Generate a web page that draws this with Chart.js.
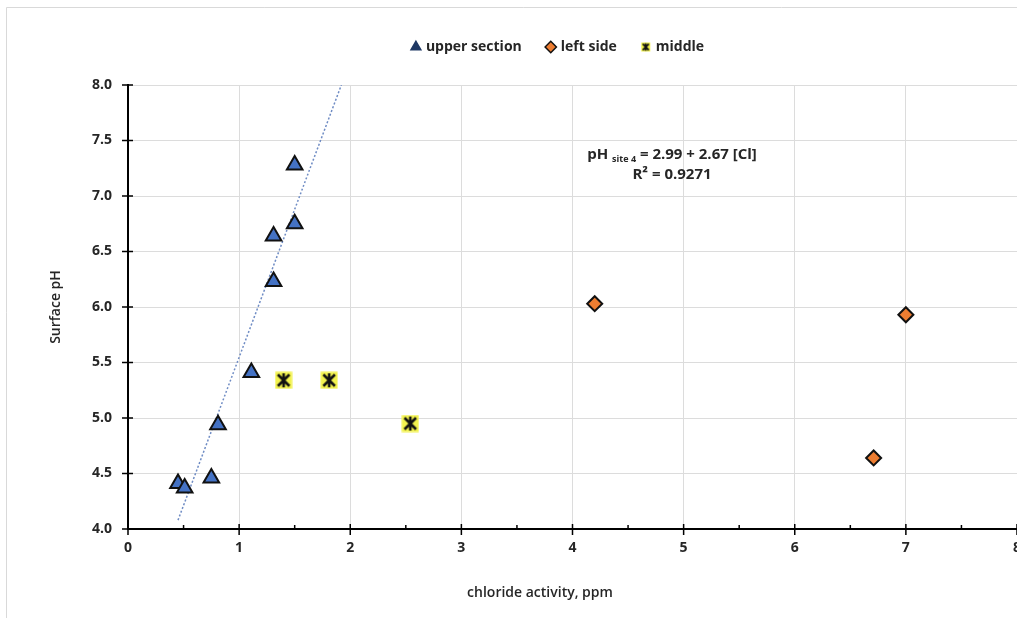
<!DOCTYPE html>
<html>
<head>
<meta charset="utf-8">
<script src="https://cdn.jsdelivr.net/npm/chart.js@4.4.1/dist/chart.umd.min.js"></script>
<style>
  html, body { margin: 0; padding: 0; background: #fff; overflow: hidden; }
  #wrap { position: relative; width: 1017px; height: 618px; overflow: hidden; }
  canvas { position: absolute; left: 0; top: 0; }
</style>
</head>
<body>
<div id="wrap"><canvas id="chart" width="1040" height="618"></canvas></div>
<script>
// データ
const upperX = [0.45, 0.51, 0.75, 0.81, 1.11, 1.31, 1.31, 1.50, 1.50];
const upperY = [4.41, 4.37, 4.46, 4.94, 5.41, 6.23, 6.64, 6.75, 7.28];
const leftX = [4.20, 7.00, 6.71];
const leftY = [6.03, 5.93, 4.64];
const middleX = [1.40, 1.81, 2.54];
const middleY = [5.34, 5.34, 4.95];
// 近似直線の両端
const trendX = [0.45, 1.92];
const trendY = [4.08, 8.0];

const seriesLabels = ['upper section', 'left side', 'middle'];
const xTitle = 'chloride activity, ppm';
const yTitle = 'Surface pH';
const xTicks = { min: 0, max: 8, step: 1, minorStep: 0.5 };
const yTicks = { min: 4, max: 8, step: 0.5 };

const FONT = '"Open Sans", Lato, sans-serif';
const TEXT = '#262626';

const toPoints = (xs, ys) => xs.map((x, i) => ({ x: x, y: ys[i] }));

// "middle" 用マーカー（黄色い四角＋黒い星）
function makeStarMarker(size, sq, lw) {
    const c = document.createElement('canvas');
    c.width = size; c.height = size;
    const g = c.getContext('2d');
    const m = size / 2;
    g.fillStyle = '#f2f24e';
    g.fillRect(m - sq / 2, m - sq / 2, sq, sq);
    g.strokeStyle = '#111';
    g.lineWidth = lw;
    const a = sq * 0.34;
    g.beginPath();
    g.moveTo(m - a, m - a); g.lineTo(m + a, m + a);
    g.moveTo(m + a, m - a); g.lineTo(m - a, m + a);
    g.moveTo(m, m - a * 1.2); g.lineTo(m, m + a * 1.2);
    g.stroke();
    return c;
}
const starBig = makeStarMarker(18, 17, 2.6);
const starSmall = makeStarMarker(11, 9, 1.8);

// 背景・枠・目盛り・数式
const decoPlugin = {
    id: 'deco',
    afterInit(chart) {
        // 凡例の高さを固定してプロット領域の上端を合わせる
        const lg = chart.legend;
        const fit = lg.fit;
        lg.fit = function() { fit.call(this); this.height = 71; };
    },
    afterLayout(chart) {
        // 凡例を少し右へ
        chart.legend.left += 100;
    },
    beforeDraw(chart) {
        const ctx = chart.ctx;
        ctx.save();
        ctx.fillStyle = '#fff';
        ctx.fillRect(0, 0, chart.width, chart.height);
        ctx.strokeStyle = '#d9d9d9';
        ctx.lineWidth = 1;
        ctx.beginPath();
        ctx.moveTo(6.5, chart.height);
        ctx.lineTo(6.5, 7.5);
        ctx.lineTo(chart.width, 7.5);
        ctx.stroke();
        ctx.restore();
    },
    afterDraw(chart) {
        const ctx = chart.ctx;
        const xs = chart.scales.x, ys = chart.scales.y;
        const ax = xs.getPixelForValue(0), ay = ys.getPixelForValue(4);
        ctx.save();
        ctx.strokeStyle = '#000';
        ctx.lineWidth = 1.5;
        ctx.beginPath();
        for (let v = yTicks.min; v <= yTicks.max + 1e-9; v += yTicks.step) {
            const py = ys.getPixelForValue(v);
            ctx.moveTo(ax - 6, py); ctx.lineTo(ax + 5, py);
        }
        for (let v = xTicks.min; v <= xTicks.max + 1e-9; v += xTicks.minorStep) {
            const px = xs.getPixelForValue(v);
            if (Math.abs(v - Math.round(v)) < 1e-9) {
                ctx.moveTo(px, ay - 5); ctx.lineTo(px, ay + 6);
            } else {
                ctx.moveTo(px, ay - 4); ctx.lineTo(px, ay);
            }
        }
        ctx.stroke();

        // x軸タイトル（元図では少し左寄り）
        ctx.fillStyle = TEXT;
        ctx.font = '600 14px ' + FONT;
        ctx.textAlign = 'center';
        ctx.textBaseline = 'middle';
        ctx.fillText(xTitle, 540, 593);

        // 回帰式
        ctx.textBaseline = 'alphabetic';
        const big = 'bold 15px ' + FONT, small = 'bold 9px ' + FONT;
        const parts = [['pH ', big, 0], ['site 4', small, 3], [' = 2.99 + 2.67 [Cl]', big, 0]];
        let w = 0;
        parts.forEach(p => { ctx.font = p[1]; w += ctx.measureText(p[0]).width; });
        let x = 672 - w / 2;
        ctx.textAlign = 'left';
        parts.forEach(p => { ctx.font = p[1]; ctx.fillText(p[0], x, 159 + p[2]); x += ctx.measureText(p[0]).width; });
        ctx.font = big;
        ctx.textAlign = 'center';
        ctx.fillText('R\u00B2 = 0.9271', 672, 179);
        ctx.restore();
    }
};

new Chart(document.getElementById('chart'), {
    type: 'scatter',
    data: {
        datasets: [
            {
                label: seriesLabels[0],
                data: toPoints(upperX, upperY),
                pointStyle: 'triangle',
                pointRadius: 9,
                pointHoverRadius: 9,
                backgroundColor: '#4472c4',
                borderColor: '#111',
                borderWidth: 2
            },
            {
                label: seriesLabels[1],
                data: toPoints(leftX, leftY),
                pointStyle: 'rectRot',
                pointRadius: 7.5,
                pointHoverRadius: 7.5,
                backgroundColor: '#ed7d31',
                borderColor: '#111',
                borderWidth: 2
            },
            {
                label: seriesLabels[2],
                data: toPoints(middleX, middleY),
                pointStyle: starBig,
                backgroundColor: '#f2f24e',
                borderColor: '#111'
            },
            {
                label: 'trend',
                data: toPoints(trendX, trendY),
                showLine: true,
                pointRadius: 0,
                pointHoverRadius: 0,
                borderColor: '#6f8cc4',
                borderWidth: 1.5,
                borderDash: [2, 2]
            }
        ]
    },
    options: {
        responsive: false,
        animation: false,
        devicePixelRatio: 1,
        layout: { padding: { left: 0, right: 23, top: 14, bottom: 0 } },
        plugins: {
            tooltip: { enabled: false },
            legend: {
                position: 'top',
                align: 'center',
                labels: {
                    usePointStyle: true,
                    boxWidth: 6,
                    boxHeight: 8,
                    padding: 26,
                    color: TEXT,
                    font: { family: FONT, size: 14, weight: 'bold' },
                    filter: item => item.datasetIndex < 3,
                    generateLabels(chart) {
                        const items = Chart.defaults.plugins.legend.labels.generateLabels(chart);
                        items.forEach(it => {
                            it.lineWidth = 1.5;
                            if (it.datasetIndex === 0) { it.fillStyle = '#1f3864'; it.strokeStyle = '#1f3864'; }
                            if (it.datasetIndex === 2) it.pointStyle = starSmall;
                        });
                        return items;
                    }
                }
            }
        },
        scales: {
            x: {
                type: 'linear',
                min: xTicks.min,
                max: xTicks.max,
                afterFit(scale) { scale.height = 89; },
                ticks: {
                    stepSize: xTicks.step,
                    padding: 11,
                    color: TEXT,
                    font: { family: FONT, size: 14, weight: 'bold' }
                },
                grid: { color: '#dcdcdc', lineWidth: 1, drawTicks: false },
                border: { color: '#000', width: 2 },
                title: { display: false }
            },
            y: {
                type: 'linear',
                min: yTicks.min,
                max: yTicks.max,
                afterFit(scale) { scale.width = 128; },
                ticks: {
                    stepSize: yTicks.step,
                    padding: 16,
                    color: TEXT,
                    font: { family: FONT, size: 14, weight: 'bold' },
                    callback: v => Number(v).toFixed(1)
                },
                grid: { color: '#dcdcdc', lineWidth: 1, drawTicks: false },
                border: { color: '#000', width: 2 },
                title: {
                    display: true,
                    text: yTitle,
                    color: TEXT,
                    font: { family: FONT, size: 14, weight: '600' },
                    padding: { top: 48, bottom: 0 }
                }
            }
        }
    },
    plugins: [decoPlugin]
});
</script>
</body>
</html>
